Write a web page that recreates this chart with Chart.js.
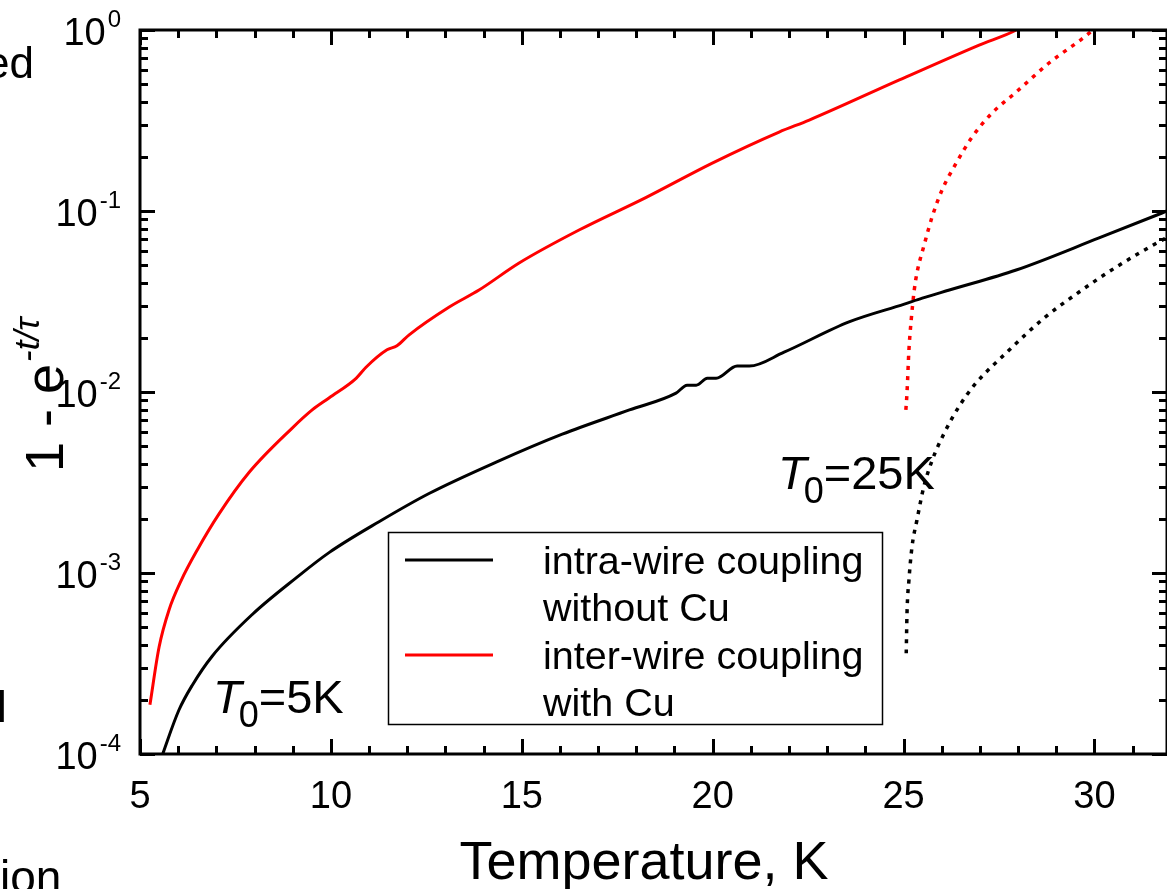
<!DOCTYPE html>
<html><head><meta charset="utf-8">
<script src="https://cdn.jsdelivr.net/npm/chart.js@4.4.1/dist/chart.umd.min.js"></script>
<style>html,body{margin:0;padding:0;background:#fff;overflow:hidden}#wrap{position:relative;width:1167px;height:889px}</style>
</head><body><div id="wrap"><canvas id="c" width="1167" height="889"></canvas></div>
<script>
const FONT = '"Liberation Sans", Arial, Helvetica, sans-serif';

// ---- data ----
const xTickValues = [5, 10, 15, 20, 25, 30];
const yTickExponents = [-4, -3, -2, -1, 0];

// intra-wire coupling without Cu, T0 = 5 K (black solid)
const intraT = [5.56, 5.63, 6.02, 6.37, 6.89, 7.94, 9.09, 9.96, 11.26, 12.57, 14.33, 16.06, 17.82, 19.04, 19.33, 19.57, 19.86, 20.09, 20.64, 20.96, 21.87, 23.57, 25.02, 25.49, 26.20, 27.95, 30.12, 31.77, 32.0];
const intraVal = [0.95e-4, 1.05e-4, 1.75e-4, 2.4e-4, 3.47e-4, 5.9e-4, 9.4e-4, 1.3e-3, 1.92e-3, 2.75e-3, 4.1e-3, 5.85e-3, 7.96e-3, 9.86e-3, 1.09e-2, 1.09e-2, 1.19e-2, 1.19e-2, 1.39e-2, 1.39e-2, 1.66e-2, 2.44e-2, 3.06e-2, 3.3e-2, 3.66e-2, 4.72e-2, 7.1e-2, 9.75e-2, 0.102];

// inter-wire coupling with Cu, T0 = 5 K (red solid)
const interT = [5.26, 5.50, 5.76, 6.08, 6.50, 7.07, 7.86, 8.98, 9.51, 9.95, 10.66, 10.92, 11.47, 11.73, 12.05, 13.10, 13.88, 14.93, 16.50, 18.26, 19.99, 21.74, 22.53, 24.89, 26.98, 27.95, 28.1];
const interVal = [1.87e-4, 3.9e-4, 6.25e-4, 9.1e-4, 1.34e-3, 2.12e-3, 3.6e-3, 6.3e-3, 7.96e-3, 9.27e-3, 1.19e-2, 1.37e-2, 1.71e-2, 1.80e-2, 2.07e-2, 2.95e-2, 3.66e-2, 5.16e-2, 7.85e-2, 0.119, 0.184, 0.273, 0.318, 0.53, 0.826, 1.0, 1.05];

// inter-wire coupling with Cu, T0 = 25 K (red dotted)
const interT25 = [25.06, 25.09, 25.14, 25.20, 25.28, 25.35, 25.54, 25.75, 26.01, 26.38, 26.80, 27.32, 27.95, 28.81, 29.86, 29.95];
const interVal25 = [7.96e-3, 9.9e-3, 0.017, 0.025, 0.0366, 0.0454, 0.065, 0.093, 0.131, 0.184, 0.257, 0.348, 0.454, 0.657, 0.96, 1.0];

// intra-wire coupling without Cu, T0 = 25 K (black dotted)
const intraT25 = [25.07, 25.09, 25.14, 25.22, 25.35, 25.53, 25.75, 26.06, 26.45, 26.85, 27.76, 28.68, 29.60, 30.57, 31.77, 32.0];
const intraVal25 = [3.6e-4, 6.0e-4, 9.1e-4, 1.39e-3, 1.96e-3, 2.99e-3, 4.2e-3, 5.9e-3, 8.3e-3, 1.09e-2, 0.017, 0.0256, 0.0357, 0.049, 0.069, 0.073];

const legendLines = [['intra-wire coupling', 'without Cu'], ['inter-wire coupling', 'with Cu']];
const xTitle = 'Temperature, K';

const pts = (xs, ys) => xs.map((x, i) => ({x: x, y: ys[i]}));

const BLACK = '#000000', RED = '#ff0000';

function drawT0(ctx, x, base, rest, size, subSize) {
  ctx.fillStyle = '#000';
  ctx.textAlign = 'left';
  ctx.textBaseline = 'alphabetic';
  ctx.font = 'italic ' + size + 'px ' + FONT;
  ctx.fillText('T', x, base);
  let w = ctx.measureText('T').width;
  ctx.font = subSize + 'px ' + FONT;
  ctx.fillText('0', x + w - 3, base + 14);
  let w2 = ctx.measureText('0').width;
  ctx.font = size + 'px ' + FONT;
  ctx.fillText(rest, x + w - 3 + w2, base);
}

const decor = {
  id: 'decor',
  afterDraw(chart) {
    const ctx = chart.ctx;
    const xs = chart.scales.x, ys = chart.scales.y;
    const a = chart.chartArea;
    ctx.save();
    // frame
    ctx.strokeStyle = '#000';
    ctx.lineWidth = 3;
    ctx.lineCap = 'square';
    ctx.beginPath();
    ctx.moveTo(a.left, a.top); ctx.lineTo(a.right, a.top);
    ctx.lineTo(a.right, a.bottom); ctx.lineTo(a.left, a.bottom); ctx.closePath();
    ctx.stroke();
    ctx.lineCap = 'butt';
    // x ticks
    for (let v = Math.ceil(xs.min); v <= xs.max; v++) {
      const px = Math.round(xs.getPixelForValue(v)) + 0.5;
      const len = (v % 5 === 0) ? 15 : 8;
      ctx.beginPath();
      ctx.moveTo(px, a.bottom); ctx.lineTo(px, a.bottom - len);
      ctx.moveTo(px, a.top); ctx.lineTo(px, a.top + len);
      ctx.stroke();
    }
    // y ticks
    for (let d = -4; d <= 0; d++) {
      for (let m = 1; m <= 9; m++) {
        if (d === 0 && m > 1) break;
        const v = m * Math.pow(10, d);
        const py = Math.round(ys.getPixelForValue(v)) + 0.5;
        const len = (m === 1) ? 15 : 8;
        ctx.beginPath();
        ctx.moveTo(a.left, py); ctx.lineTo(a.left + len, py);
        ctx.moveTo(a.right, py); ctx.lineTo(a.right - len, py);
        ctx.stroke();
      }
    }
    // x tick labels
    ctx.fillStyle = '#000';
    ctx.font = '38px ' + FONT;
    ctx.textAlign = 'center';
    ctx.textBaseline = 'alphabetic';
    xTickValues.forEach(v => {
      ctx.fillText(String(v), xs.getPixelForValue(v), a.bottom + 54);
    });
    // y tick labels 10^n
    yTickExponents.forEach(e => {
      const py = ys.getPixelForValue(Math.pow(10, e));
      const expStr = String(e);
      ctx.font = '24px ' + FONT;
      ctx.textAlign = 'right';
      ctx.fillText(expStr, 121, py - 3);
      const ew = ctx.measureText(expStr).width;
      ctx.font = '38px ' + FONT;
      ctx.fillText('10', 121 - ew - 2, py + 15);
    });
    // axis titles
    ctx.font = '54px ' + FONT;
    ctx.textAlign = 'center';
    ctx.fillText(xTitle, 644, 879);
    ctx.save();
    ctx.translate(63, 472);
    ctx.rotate(-Math.PI / 2);
    ctx.textAlign = 'left';
    ctx.font = '54px ' + FONT;
    ctx.fillText('1 - e', 0, 0);
    const tw = ctx.measureText('1 - e').width;
    ctx.font = 'italic 35px ' + FONT;
    ctx.fillText('-t/\u03C4', tw + 2, -24);
    ctx.restore();
    // annotations
    drawT0(ctx, 213, 713, '=5K', 47, 36);
    drawT0(ctx, 778, 489, '=25K', 47, 36);
    // legend
    ctx.lineWidth = 1.5;
    ctx.strokeStyle = '#000';
    ctx.strokeRect(388.5, 532.5, 494, 192);
    const dsets = chart.data.datasets;
    [0, 1].forEach(i => {
      const y = i === 0 ? 560 : 655;
      ctx.strokeStyle = dsets[i].borderColor;
      ctx.lineWidth = 3;
      ctx.beginPath(); ctx.moveTo(405, y); ctx.lineTo(493, y); ctx.stroke();
    });
    ctx.fillStyle = '#000';
    ctx.font = '39.5px ' + FONT;
    ctx.textAlign = 'left';
    const bases = [574, 621, 669, 716];
    let k = 0;
    legendLines.forEach(lines => lines.forEach(t => { ctx.fillText(t, 543, bases[k++]); }));
    // fragments of neighbouring panel text at the left edge
    ctx.font = '44px ' + FONT;
    ctx.textAlign = 'right';
    ctx.fillText('ed', 34, 78);
    ctx.textAlign = 'left';
    ctx.fillText('l', -3, 722);
    ctx.font = '46px ' + FONT;
    ctx.fillText('ion', 0, 893);
    ctx.restore();
  }
};

new Chart(document.getElementById('c'), {
  type: 'line',
  data: {
    datasets: [
      {label: 'intra-wire coupling without Cu', data: pts(intraT, intraVal), borderColor: BLACK, borderWidth: 3, pointRadius: 0, cubicInterpolationMode: 'monotone'},
      {label: 'inter-wire coupling with Cu', data: pts(interT, interVal), borderColor: RED, borderWidth: 3, pointRadius: 0, cubicInterpolationMode: 'monotone'},
      {label: 'inter-wire T0=25K', data: pts(interT25, interVal25), borderColor: RED, borderWidth: 3.5, borderDash: [4, 6], pointRadius: 0, cubicInterpolationMode: 'monotone'},
      {label: 'intra-wire T0=25K', data: pts(intraT25, intraVal25), borderColor: BLACK, borderWidth: 3.5, borderDash: [4, 6], pointRadius: 0, cubicInterpolationMode: 'monotone'}
    ]
  },
  options: {
    responsive: false,
    devicePixelRatio: 1,
    animation: false,
    layout: {padding: {top: 30, right: 0, left: 0, bottom: 0}},
    plugins: {legend: {display: false}, tooltip: {enabled: false}},
    scales: {
      x: {type: 'linear', min: 5, max: 31.9, grid: {display: false}, border: {display: false}, ticks: {display: false},
          afterFit: s => { s.height = 135; }},
      y: {type: 'logarithmic', min: 1e-4, max: 1, grid: {display: false}, border: {display: false}, ticks: {display: false},
          afterFit: s => { s.width = 140; }}
    }
  },
  plugins: [decor]
});
</script></body></html>
